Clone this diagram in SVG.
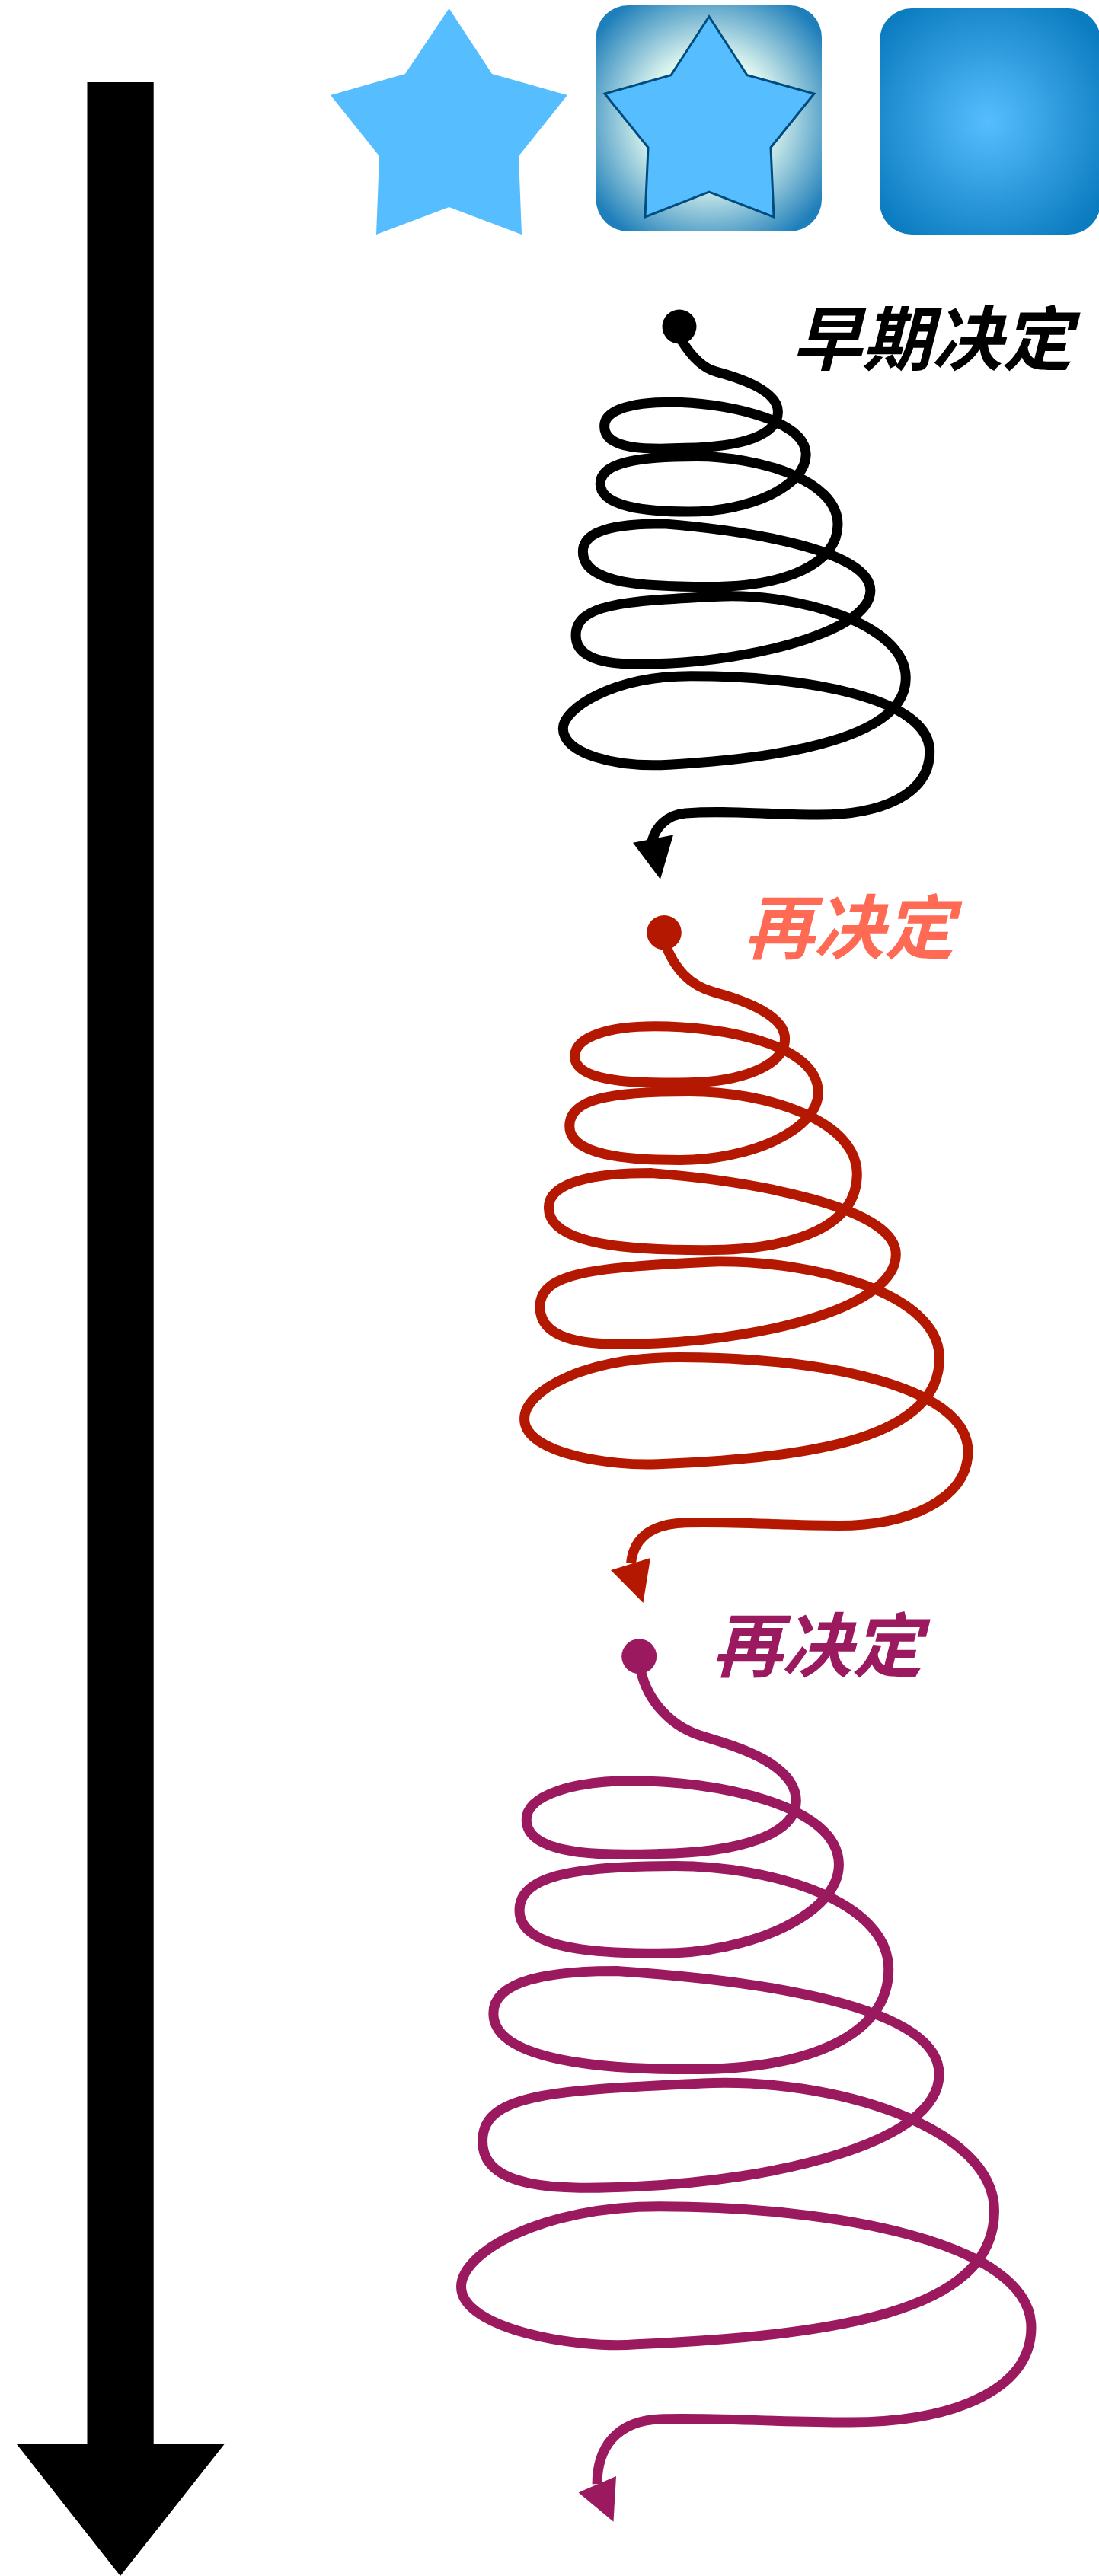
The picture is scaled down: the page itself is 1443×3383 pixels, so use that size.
<svg xmlns="http://www.w3.org/2000/svg" width="1443" height="3383" viewBox="0 0 1443 3383">
<style>
.sp{fill:none;stroke-width:13;stroke-linecap:butt;stroke-linejoin:round;vector-effect:non-scaling-stroke}
.t{font-family:"Noto Sans CJK SC","Noto Sans CJK JP",sans-serif;font-weight:700;font-style:italic;font-size:92px}
.k{stroke:#000}.r{stroke:#B51800}.p{stroke:#9A195F}
</style>
<defs>
<radialGradient id="g1" cx="0.5" cy="0.5" r="0.62"><stop offset="0" stop-color="#F2FFF4"/><stop offset="0.45" stop-color="#DDF5EE"/><stop offset="1" stop-color="#1F7FBA"/></radialGradient>
<radialGradient id="g2" cx="0.49" cy="0.5" r="0.62"><stop offset="0" stop-color="#56BEFF"/><stop offset="1" stop-color="#0C7CC0"/></radialGradient>
</defs>
<rect width="1443" height="3383" fill="#fff"/>
<g id="timeline-arrow"><path d="M114.5 108H201.7V3210H294.5L158 3383L22 3210H114.5Z" fill="#000"/></g>
<g id="star-plain"><path d="M589.6 11L646 97L745 125L681 205L685 308L589.6 272L494 308L498 205L434 125L532 97Z" fill="#56BEFF"/></g>
<g id="star-glow"><rect x="782.6" y="7" width="296.4" height="297" rx="42" fill="url(#g1)"/><path d="M931 21.7L981 98.7L1069 123L1012 193.7L1016 285L931 252L847 285L851 193.7L794 123L881 98.7Z" fill="#56BEFF" stroke="#004C7F" stroke-width="3"/></g>
<g id="square-blue"><rect x="1155" y="11" width="290" height="297" rx="42" fill="url(#g2)"/></g>
<g id="label-1"><text class="t" x="1040" y="479" fill="#000">早期决定</text></g>
<g id="label-2"><text class="t" x="977" y="1252" fill="#FF6A55">再决定</text></g>
<g id="label-3"><text class="t" x="935" y="2195" fill="#9A195F">再决定</text></g>
<g id="dot-1"><circle cx="892" cy="429" r="22.5" fill="#000"/></g>
<g id="dot-2"><circle cx="872" cy="1224.7" r="22.8" fill="#B51800"/></g>
<g id="dot-3"><circle cx="839.2" cy="2175.3" r="23" fill="#9A195F"/></g>
<g id="connectors">
<path class="sp k" transform="translate(700 370) scale(.35714 .5102)" d="M545 150C580 190 620 222 675 232C760 248 900 280 900 335C900 395 770 425 560 428C430 432 262 435 262 372C262 335 340 310 510 310C680 310 1003 350 1003 445C1003 525 800 592 570 592C420 592 247 580 247 520C247 470 360 450 600 450C830 450 1120 510 1120 625C1120 725 930 785 650 785C420 785 183 780 183 695C183 640 300 623 480 623C780 640 1240 690 1240 795C1240 895 850 965 550 980C340 990 157 990 157 910C157 830 330 822 680 810C970 800 1370 880 1370 1020C1370 1170 950 1225 500 1243C300 1251 110 1215 110 1150C110 1100 290 1015 580 1015C1000 1015 1458 1070 1458 1210C1458 1320 1280 1372 1050 1372C850 1372 720 1360 560 1368C490 1372 450 1405 437 1440"/>
<path d="M831 1106.7L884 1096.5L867 1154.7Z" fill="#000"/>
<path class="sp r" transform="translate(660 1150) scale(.40816 .61224)" d="M525 150C555 200 600 235 680 250C780 268 908 300 908 350C908 410 760 442 600 444C450 446 232 445 232 388C232 345 340 323 490 323C700 323 1015 360 1015 465C1015 545 800 610 570 610C400 610 215 600 215 537C215 480 340 463 600 463C850 463 1140 525 1140 640C1140 750 950 803 650 803C430 803 148 795 148 712C148 655 300 638 480 638C800 655 1265 710 1265 812C1265 925 850 992 500 1003C300 1010 120 1005 120 925C120 850 300 840 680 828C1000 825 1405 895 1405 1035C1405 1205 1000 1250 500 1262C350 1267 70 1240 70 1165C70 1105 260 1033 570 1033C1000 1033 1497 1090 1497 1235C1497 1340 1300 1394 1080 1394C900 1394 750 1385 590 1388C470 1390 420 1425 413 1475"/>
<path d="M802 2062L854 2046L844.5 2105Z" fill="#B51800"/>
<path class="sp p" transform="translate(580 2090) scale(.5102 .79745)" d="M512 130C530 180 590 225 680 240C760 255 912 285 912 345C912 400 770 430 560 432C450 434 218 440 218 376C218 335 340 312 490 312C700 312 1022 350 1022 450C1022 530 800 596 560 596C400 596 200 590 200 525C200 470 330 452 600 452C850 452 1150 510 1150 622C1150 730 950 787 640 787C430 787 133 775 133 695C133 640 280 625 450 625C800 640 1280 680 1280 795C1280 910 850 970 500 980C300 986 105 985 105 905C105 825 300 822 670 810C1000 800 1422 880 1422 1020C1422 1190 1000 1225 500 1240C350 1248 50 1215 50 1145C50 1090 250 1013 560 1013C1000 1013 1517 1070 1517 1212C1517 1320 1300 1368 1050 1368C850 1368 700 1360 560 1363C450 1366 400 1410 400 1470"/>
<path d="M759.6 3273.4L809 3252L805.5 3311.7Z" fill="#9A195F"/>
</g>
</svg>
